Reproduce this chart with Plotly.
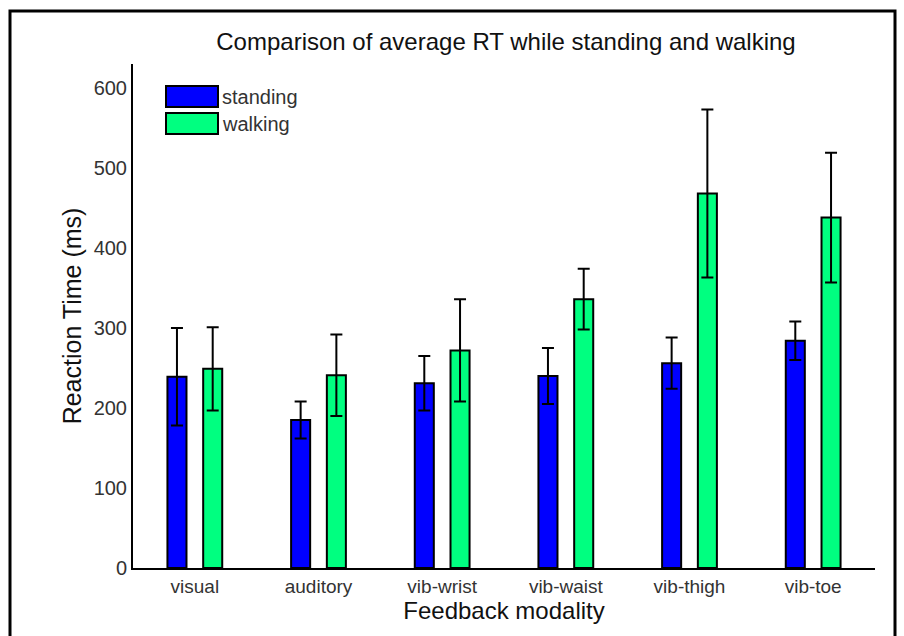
import plotly.graph_objects as go

categories = ["visual", "auditory", "vib-wrist", "vib-waist", "vib-thigh", "vib-toe"]
standing_mean = [239, 185, 231, 240, 256, 284]
standing_err = [61, 23, 34, 35, 32, 24]
walking_mean = [249, 241, 272, 336, 468, 438]
walking_err = [52, 51, 64, 38, 105, 81]
y_ticks = [0, 100, 200, 300, 400, 500, 600]

series_names = ["standing", "walking"]
series_colors = ["#0000FF", "#00FF80"]

FONT = "Liberation Sans, Arial, sans-serif"
W, H = 904, 636
L, R, T, B = 133, 29, 64, 68
pw, ph = W - L - R, H - T - B

def px(x):
    return (x - L) / pw

def py(y):
    return (H - B - y) / ph

fig = go.Figure()
for name, mean, err, col in [
    (series_names[0], standing_mean, standing_err, series_colors[0]),
    (series_names[1], walking_mean, walking_err, series_colors[1]),
]:
    fig.add_trace(go.Bar(
        x=categories, y=mean, name=name,
        marker=dict(color=col, line=dict(color="black", width=2)),
        error_y=dict(type="data", array=err, visible=True,
                     color="black", thickness=2, width=6),
        showlegend=False,
    ))

# manual legend (large swatches like the original)
shapes = []
annotations = []
legend_rows = [(86, 107), (113, 134)]
for (y0, y1), name, col in zip(legend_rows, series_names, series_colors):
    shapes.append(dict(type="rect", xref="paper", yref="paper",
                       x0=px(166), x1=px(218), y0=py(y1), y1=py(y0),
                       fillcolor=col, line=dict(color="black", width=2)))
    annotations.append(dict(xref="paper", yref="paper", x=px(220), y=py((y0 + y1) / 2),
                            text=name, showarrow=False, xanchor="left", yanchor="middle",
                            font=dict(family=FONT, size=20, color="#333333")))

# outer frame
shapes.append(dict(type="rect", xref="paper", yref="paper", layer="above",
                   x0=px(10), x1=px(895), y0=py(645), y1=py(11),
                   line=dict(color="black", width=3), fillcolor="rgba(0,0,0,0)"))

fig.update_layout(
    width=W, height=H,
    margin=dict(l=L, r=R, t=T, b=B, autoexpand=False),
    paper_bgcolor="white", plot_bgcolor="white",
    barmode="group", bargap=0.422, bargroupgap=0.467,
    font=dict(family=FONT, color="#333333"),
    title=dict(text="Comparison of average RT while standing and walking",
               x=506 / W, xanchor="center", y=1 - 42 / H, yanchor="middle",
               font=dict(family=FONT, size=24, color="#111111")),
    xaxis=dict(showline=True, linecolor="black", linewidth=2, ticks="",
               showgrid=False, zeroline=False,
               tickfont=dict(family=FONT, size=19, color="#333333"),
               title=dict(text="Feedback modality", standoff=2,
                          font=dict(family=FONT, size=24, color="#111111"))),
    yaxis=dict(range=[0, 630], tickvals=y_ticks, showline=True, linecolor="black",
               linewidth=2, ticks="", showgrid=False, zeroline=False,
               tickfont=dict(family=FONT, size=20, color="#333333"),
               title=dict(text="Reaction Time (ms)", standoff=5,
                          font=dict(family=FONT, size=25, color="#111111"))),
    shapes=shapes, annotations=annotations,
)

fig.write_html("out.html")
